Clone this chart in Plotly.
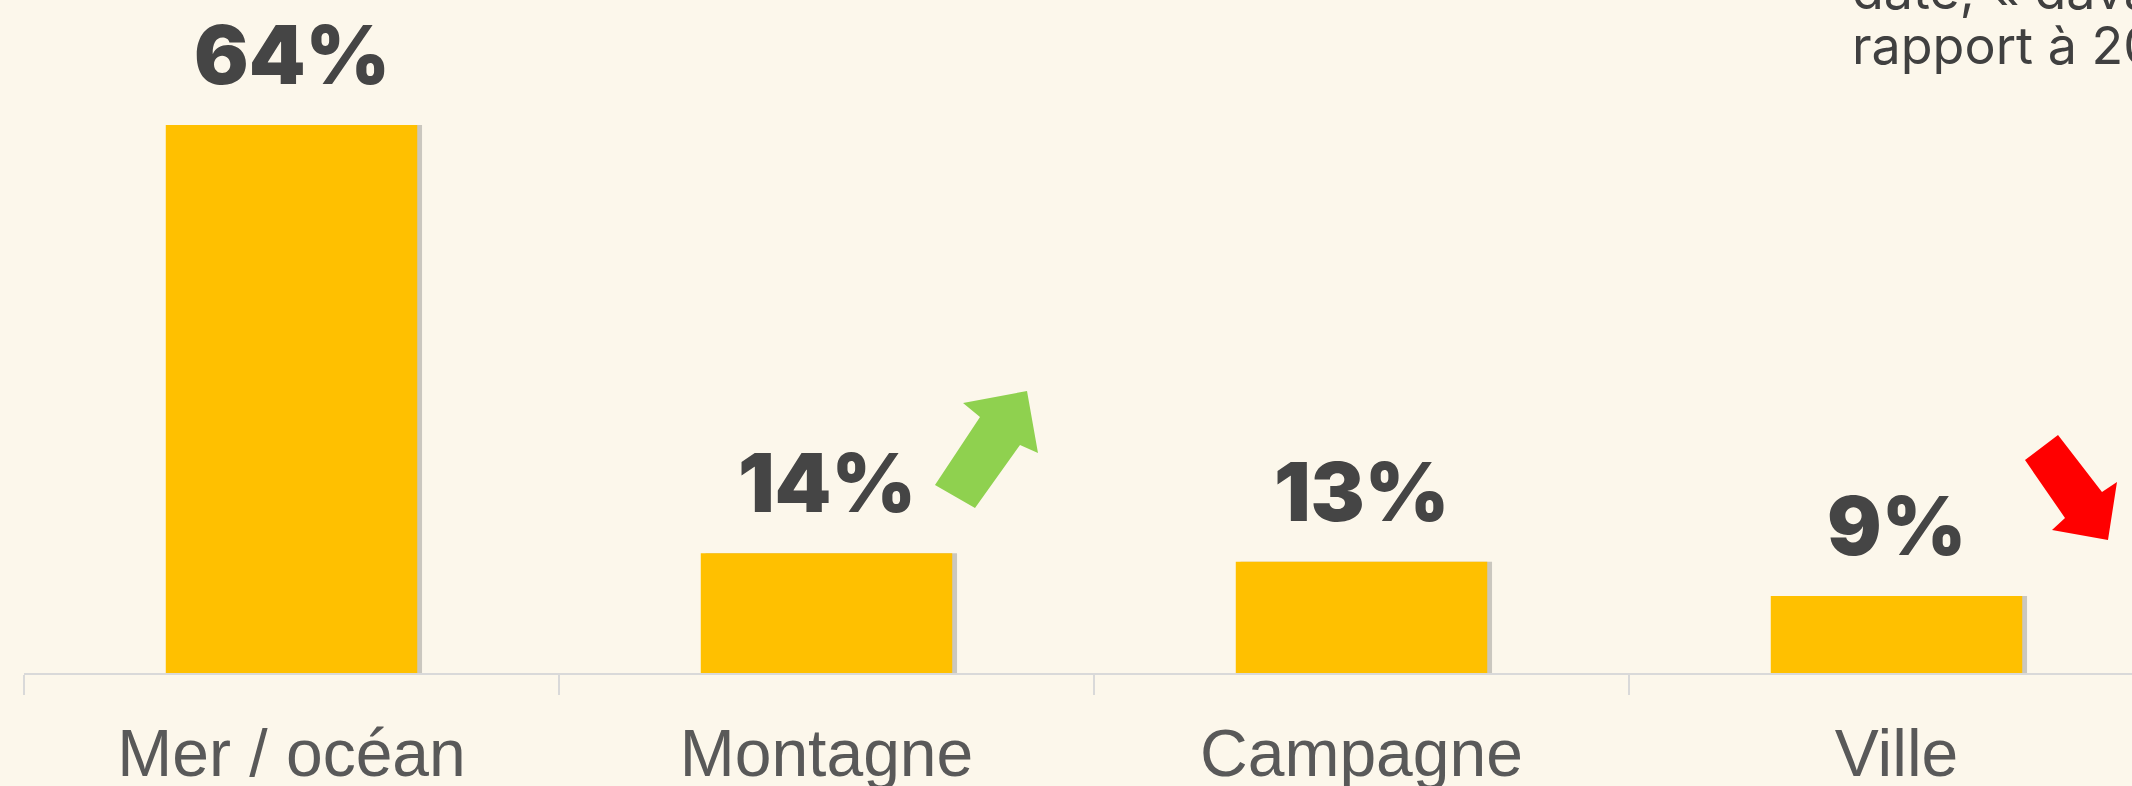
import plotly.graph_objects as go

categories = ["Mer / océan", "Montagne", "Campagne", "Ville"]
values = [64, 14, 13, 9]
value_labels = ["64%", "14%", "13%", "9%"]
note_lines = ["date, « davantage » par", "rapport à 2023"]

W, H = 2132, 786
ML, MR, MT, MB = 24, 0, 0, 113
PW, PH = W - ML - MR, H - MT - MB

BG = "#FCF7EB"
BAR = "#FFC000"
DARK = "#454545"

def px(x, y):
    return ((x - ML) / PW, (H - MB - y) / PH)

def path(points):
    pts = [px(x, y) for x, y in points]
    return "M " + " L ".join(f"{a:.5f},{b:.5f}" for a, b in pts) + " Z"

fig = go.Figure()
fig.add_trace(go.Bar(
    x=categories, y=values, width=0.47, offset=-0.235 + 0.009,
    marker=dict(color="rgba(110,110,110,0.35)", line=dict(width=0)),
    hoverinfo="skip", showlegend=False,
))
fig.add_trace(go.Bar(
    x=categories, y=values, width=0.47, offset=-0.235,
    marker=dict(color=BAR, line=dict(width=0)),
    showlegend=False,
))

for c, v, t in zip(categories, values, value_labels):
    fig.add_annotation(x=c, y=v, text=t, showarrow=False, yanchor="bottom",
                       yshift=19, font=dict(family="Inter", size=81, color=DARK, weight=900))

green = [(935, 485), (980, 417), (963, 403), (1027, 391), (1038, 453), (1020, 445), (975, 508)]
red = [(2025, 460), (2058, 435), (2102, 492), (2117, 482), (2108, 540), (2052, 530), (2065, 518)]
fig.add_shape(type="path", xref="paper", yref="paper", path=path(green),
              fillcolor="#8FD14F", line=dict(width=0), layer="above")
fig.add_shape(type="path", xref="paper", yref="paper", path=path(red),
              fillcolor="#FF0000", line=dict(width=0), layer="above")

for i, line in enumerate(note_lines):
    x0, y0 = px(1850, 63 + (i - 1) * 55)
    fig.add_annotation(xref="paper", yref="paper", x=x0, y=y0, xanchor="left", yanchor="bottom",
                       text=line, showarrow=False, yshift=-16,
                       font=dict(family="Inter", size=52, color="#404040"))

fig.update_layout(
    width=W, height=H,
    margin=dict(l=ML, r=MR, t=MT, b=MB, pad=0, autoexpand=False),
    paper_bgcolor=BG, plot_bgcolor=BG,
    barmode="overlay",
    xaxis=dict(range=[-0.5, -0.5 + PW / 535], showline=True, linecolor="#D9D9D9", linewidth=2,
               ticks="outside", ticklen=20, tickwidth=2, tickcolor="#D9D9D9", tickson="boundaries",
               showgrid=False, zeroline=False, automargin=False,
               tickfont=dict(family="Liberation Sans", size=66, color="#595959"),
               ticklabelstandoff=22),
    yaxis=dict(range=[0, PH / 8.5625], visible=False, fixedrange=True, automargin=False),
)

fig.write_html("out.html", config={"displayModeBar": False},
               post_script="document.body.style.margin='0';document.body.style.overflow='hidden';")
